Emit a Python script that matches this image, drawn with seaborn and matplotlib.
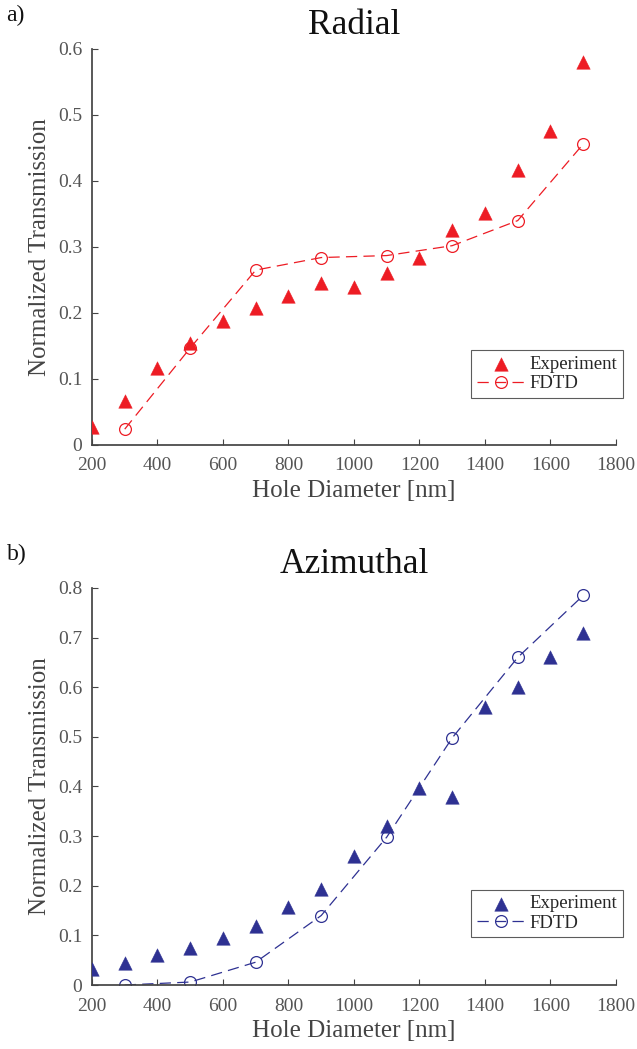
import numpy as np
import pandas as pd
import seaborn as sns
import matplotlib.pyplot as plt

# hole diameters [nm]
diam_exp = [200, 300, 400, 500, 600, 700, 800, 900, 1000, 1100, 1200,
            1300, 1400, 1500, 1600, 1700]
diam_fdtd = [300, 500, 700, 900, 1100, 1300, 1500, 1700]

# radial polarisation
radial_exp = [0.027, 0.066, 0.116, 0.155, 0.188, 0.207, 0.226, 0.245,
              0.240, 0.260, 0.284, 0.326, 0.352, 0.416, 0.476, 0.581]
radial_fdtd = [0.024, 0.147, 0.265, 0.284, 0.287, 0.302, 0.340, 0.456]

# azimuthal polarisation
azim_exp = [0.033, 0.045, 0.061, 0.074, 0.095, 0.118, 0.157, 0.193,
            0.260, 0.320, 0.396, 0.378, 0.560, 0.600, 0.660, 0.710]
azim_fdtd = [0.000, 0.006, 0.046, 0.140, 0.298, 0.498, 0.660, 0.785]

sns.set_theme(style="ticks")
plt.rcParams["font.family"] = ["Liberation Serif", "DejaVu Serif"]
plt.rcParams["axes.edgecolor"] = "#444444"
plt.rcParams["xtick.color"] = "#444444"
plt.rcParams["ytick.color"] = "#444444"
plt.rcParams["xtick.labelcolor"] = "#555555"
plt.rcParams["ytick.labelcolor"] = "#555555"
plt.rcParams["xtick.direction"] = "in"
plt.rcParams["ytick.direction"] = "in"

fig = plt.figure(figsize=(6.37, 10.49), dpi=100)
ax1 = fig.add_axes([0.1444, 0.5758, 0.8226, 0.3775])
ax2 = fig.add_axes([0.1444, 0.0610, 0.8226, 0.3785])

panels = [
    (ax1, radial_exp, radial_fdtd, "#ED1C24", "Radial", "a)", 0.6),
    (ax2, azim_exp, azim_fdtd, "#2E3192", "Azimuthal", "b)", 0.8),
]

for ax, exp, fdtd, col, title, tag, ymax in panels:
    df_exp = pd.DataFrame({"d": diam_exp, "t": exp})
    df_sim = pd.DataFrame({"d": diam_fdtd, "t": fdtd})
    sns.scatterplot(data=df_exp, x="d", y="t", marker="^", s=95,
                    color=col, edgecolor=col, linewidth=0.3,
                    label="Experiment", ax=ax, zorder=3)
    sns.lineplot(data=df_sim, x="d", y="t", color=col, linestyle=(0, (9, 5)),
                 linewidth=0.9, marker="o", markersize=8.5,
                 markerfacecolor="none", markeredgecolor=col,
                 markeredgewidth=0.9, label="FDTD", ax=ax)
    ax.set_xlim(200, 1800)
    ax.set_ylim(0, ymax)
    ax.set_xticks(np.arange(200, 1801, 200))
    yt = np.round(np.arange(0, ymax + 0.01, 0.1), 1)
    ax.set_yticks(yt)
    ax.set_yticklabels(["0"] + [f"{v:.1f}" for v in yt[1:]])
    ax.tick_params(labelsize=14, length=4, width=0.8)
    ax.tick_params(axis="x", pad=9)
    ax.tick_params(axis="y", pad=7)
    ax.set_xlabel("Hole Diameter [nm]", fontsize=18, color="#444444",
                  labelpad=4)
    ax.set_ylabel("Normalized Transmission", fontsize=18, color="#444444",
                  labelpad=5)
    ax.set_title(title, fontsize=25.5, color="#111111", pad=11)
    sns.despine(ax=ax)
    ax.text(-0.163, 1.085, tag, transform=ax.transAxes, fontsize=17,
            color="#111111", va="center")
    leg = ax.legend(loc="upper right", bbox_to_anchor=(1.013, 0.24),
                    fontsize=13.5, frameon=True, fancybox=False,
                    handlelength=2.6, borderpad=0.3, labelspacing=0.12,
                    handletextpad=0.2, borderaxespad=0)
    leg.get_frame().set_edgecolor("#333333")
    leg.get_frame().set_linewidth(0.8)

fig.savefig("out.png", dpi=100)
